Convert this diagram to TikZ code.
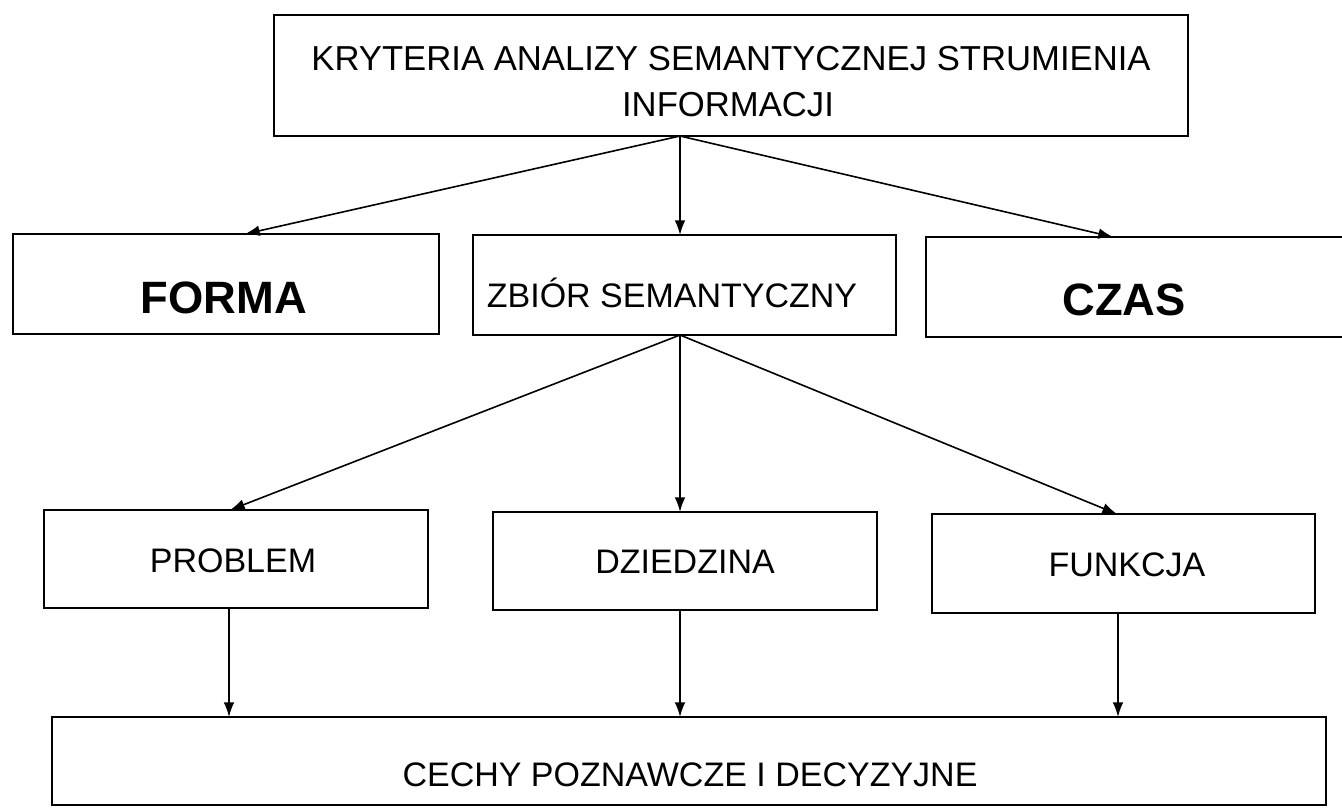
\documentclass[tikz,border=0pt]{standalone}
\usepackage{fontspec}
\setmainfont{Liberation Sans}
\usetikzlibrary{arrows.meta,fit}
\begin{document}
\begin{tikzpicture}[x=0.75pt,y=-0.75pt,
  box/.style={draw, line width=1.5pt, inner sep=0pt, outer sep=0pt},
  lbl/.style={anchor=base, inner sep=0pt, font=\fontsize{25.5pt}{30pt}\selectfont},
  big/.style={anchor=base, inner sep=0pt, font=\fontsize{34pt}{40pt}\selectfont\bfseries},
  arr/.style={-{Latex[length=11pt,width=8pt]}, line width=1.2pt}]
\useasboundingbox (0,0) rectangle (1342,808);
\fill[white] (0,0) rectangle (1342,808);
\clip (0,0) rectangle (1342,808);

% boxes
\node[box, fit={(274,15) (1188,136)}] (top) {};
\node[box, fit={(13,234) (439,334)}] (forma) {};
\node[box, fit={(473,235) (896,335)}] (zbior) {};
\node[box, fit={(926,237) (1370,337)}] (czas) {};
\node[box, fit={(44,510) (428,608)}] (problem) {};
\node[box, fit={(493,512) (877,610)}] (dziedzina) {};
\node[box, fit={(932,514) (1315,613)}] (funkcja) {};
\node[box, fit={(52,717) (1326,805)}] (cechy) {};

% texts
\node[lbl, font=\fontsize{26pt}{30pt}\selectfont] (t1) at (731,70) {KRYTERIA ANALIZY SEMANTYCZNEJ STRUMIENIA};
\node[lbl, font=\fontsize{26pt}{30pt}\selectfont] (t2) at (728,116) {INFORMACJI};
\node[big] (tforma) at (224,313) {FORMA};
\node[big] (tczas) at (1124,315) {CZAS};
\node[lbl] (tzbior) at (672,307) {ZBIÓR SEMANTYCZNY};
\node[lbl] (tproblem) at (233,572) {PROBLEM};
\node[lbl] (tdziedzina) at (685,573) {DZIEDZINA};
\node[lbl] (tfunkcja) at (1127,576) {FUNKCJA};
\node[lbl] (tcechy) at (690,786) {CECHY POZNAWCZE I DECYZYJNE};

% connection points on the box edges
\coordinate (topO) at (680,136);
\coordinate (formaI) at (245,234);
\coordinate (zbiorI) at (680,235);
\coordinate (czasI) at (1113,237);
\coordinate (zbiorO) at (680,335);
\coordinate (problemI) at (230,510);
\coordinate (dziedzinaI) at (680,512);
\coordinate (funkcjaI) at (1117,514);
\coordinate (problemO) at (229,608);
\coordinate (dziedzinaO) at (680,610);
\coordinate (funkcjaO) at (1118,613);
\coordinate (cechyA) at (229,717);
\coordinate (cechyB) at (680,717);
\coordinate (cechyC) at (1118,717);

% connectors
\draw[arr] (topO) -- (formaI);
\draw[arr] (topO) -- (zbiorI);
\draw[arr] (topO) -- (czasI);
\draw[arr] (zbiorO) -- (problemI);
\draw[arr] (zbiorO) -- (dziedzinaI);
\draw[arr] (zbiorO) -- (funkcjaI);
\draw[arr] (problemO) -- (cechyA);
\draw[arr] (dziedzinaO) -- (cechyB);
\draw[arr] (funkcjaO) -- (cechyC);
\end{tikzpicture}
\end{document}
